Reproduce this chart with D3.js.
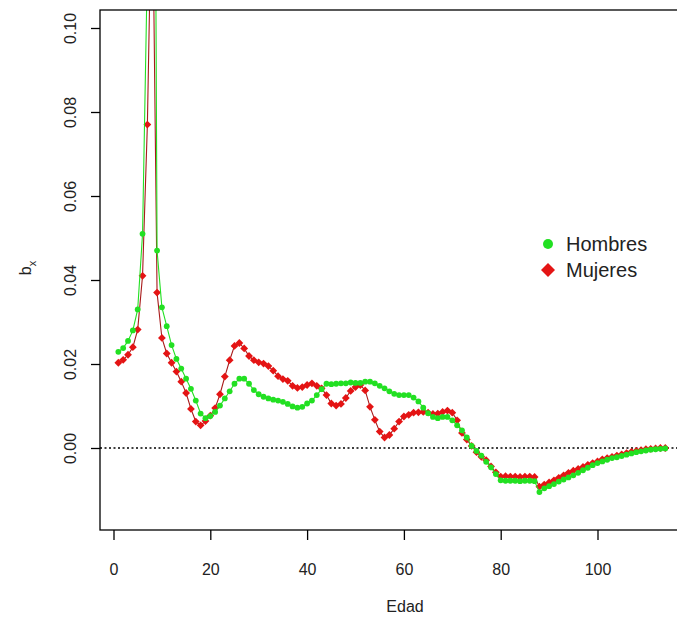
<!DOCTYPE html>
<html><head><meta charset="utf-8">
<script src="https://cdn.jsdelivr.net/npm/d3@7"></script>
<style>body{margin:0;background:#fff}svg{display:block}text{font-family:"Liberation Sans",Arial,sans-serif}</style>
</head><body><svg id="c" width="677" height="622"></svg>
<script>
const ages = d3.range(1, 115);
const hombres = [
0.0229,0.0238,0.0255,0.0280,0.0330,0.0510,0.1150,0.3000,0.0470,0.0335,
0.0290,0.0245,0.0212,0.0189,0.0165,0.0141,0.0113,0.0082,0.0071,0.0076,
0.0086,0.0101,0.0118,0.0135,0.0153,0.0165,0.0165,0.0153,0.0138,0.0128,
0.0122,0.0118,0.0115,0.0113,0.0110,0.0105,0.0099,0.0096,0.0098,0.0106,
0.0113,0.0126,0.0140,0.0153,0.0152,0.0153,0.0154,0.0154,0.0156,0.0155,
0.0155,0.0158,0.0158,0.0154,0.0148,0.0142,0.0135,0.0129,0.0126,0.0126,
0.0126,0.0120,0.0111,0.0096,0.0083,0.0074,0.0071,0.0074,0.0074,0.0066,
0.0054,0.0042,0.0025,0.0005,-0.0007,-0.0018,-0.0033,-0.0046,-0.0062,-0.0077,
-0.0078,-0.0078,-0.0078,-0.0079,-0.0078,-0.0078,-0.0079,-0.0105,-0.0096,-0.0091,
-0.0086,-0.0080,-0.0075,-0.0070,-0.0065,-0.0059,-0.0053,-0.0047,-0.0041,-0.0036,
-0.0032,-0.0028,-0.0024,-0.0022,-0.0019,-0.0016,-0.0013,-0.0010,-0.0008,-0.0006,
-0.0004,-0.0003,-0.0002,-0.0001];
const mujeres = [
0.0203,0.0210,0.0222,0.0240,0.0282,0.0410,0.0770,0.1400,0.0370,0.0262,
0.0225,0.0203,0.0182,0.0158,0.0131,0.0093,0.0063,0.0054,0.0064,0.0077,
0.0095,0.0128,0.0170,0.0209,0.0243,0.0250,0.0237,0.0219,0.0209,0.0204,
0.0201,0.0195,0.0184,0.0171,0.0164,0.0160,0.0148,0.0143,0.0145,0.0150,
0.0154,0.0148,0.0142,0.0126,0.0106,0.0101,0.0105,0.0119,0.0136,0.0145,
0.0150,0.0137,0.0098,0.0067,0.0039,0.0025,0.0031,0.0046,0.0063,0.0075,
0.0079,0.0084,0.0085,0.0086,0.0084,0.0081,0.0082,0.0086,0.0089,0.0084,
0.0066,0.0036,0.0020,0.0005,-0.0010,-0.0021,-0.0029,-0.0044,-0.0058,-0.0068,
-0.0067,-0.0068,-0.0068,-0.0069,-0.0068,-0.0068,-0.0069,-0.0092,-0.0087,-0.0082,
-0.0077,-0.0071,-0.0065,-0.0059,-0.0054,-0.0050,-0.0045,-0.0040,-0.0036,-0.0032,
-0.0027,-0.0024,-0.0021,-0.0018,-0.0015,-0.0012,-0.0009,-0.0007,-0.0005,-0.0003,
-0.0002,-0.0001,0.0000,0.0000];
const xTicks = [0, 20, 40, 60, 80, 100];
const yTicks = [0.00, 0.02, 0.04, 0.06, 0.08, 0.10];
const seriesNames = ["Hombres", "Mujeres"];

const svg = d3.select("#c");
const box = {l: 100, t: 10, r: 690, b: 530};
const x = d3.scaleLinear().domain([0, 100]).range([113.5, 597.5]);
const y = d3.scaleLinear().domain([0, 0.10]).range([448, 28]);
const GREEN = "#22e022", RED = "#e41414", REDLINE = "#a81a1a";

svg.append("defs").append("clipPath").attr("id", "clip")
  .append("rect").attr("x", box.l).attr("y", box.t).attr("width", box.r - box.l).attr("height", box.b - box.t);

const plot = svg.append("g").attr("clip-path", "url(#clip)");
plot.append("line").attr("x1", box.l).attr("x2", box.r).attr("y1", y(0)).attr("y2", y(0))
  .attr("stroke", "#000").attr("stroke-width", 1.3).attr("stroke-dasharray", "2,2.5");

const line = d3.line().x((d, i) => x(ages[i])).y(d => y(d));
plot.append("path").datum(mujeres).attr("d", line).attr("fill", "none").attr("stroke", REDLINE).attr("stroke-width", 1.1);
const diamond = s => `M0,${-s}L${s},0L0,${s}L${-s},0Z`;
plot.selectAll(".pm").data(mujeres).join("path").attr("class", "pm")
  .attr("transform", (d, i) => `translate(${x(ages[i])},${y(d)})`)
  .attr("d", diamond(3.9)).attr("fill", RED);
plot.append("path").datum(hombres).attr("d", line).attr("fill", "none").attr("stroke", GREEN).attr("stroke-width", 1.1);
plot.selectAll(".ph").data(hombres).join("circle").attr("class", "ph")
  .attr("cx", (d, i) => x(ages[i])).attr("cy", d => y(d)).attr("r", 2.9).attr("fill", GREEN);

svg.append("rect").attr("x", box.l).attr("y", box.t).attr("width", box.r - box.l).attr("height", box.b - box.t)
  .attr("fill", "none").attr("stroke", "#000").attr("stroke-width", 1.3);

const xAxis = svg.append("g").attr("transform", `translate(0,${box.b})`)
  .call(d3.axisBottom(x).tickValues(xTicks).tickSize(10).tickPadding(24).tickFormat(d3.format("d")));
xAxis.select(".domain").remove();
xAxis.selectAll("text").attr("font-size", 16).attr("fill", "#222").attr("font-family", "Liberation Sans, Arial, sans-serif");
xAxis.selectAll("line").attr("stroke", "#000").attr("stroke-width", 1.3);

const yAxis = svg.append("g").attr("transform", `translate(${box.l},0)`)
  .call(d3.axisLeft(y).tickValues(yTicks).tickSize(9).tickFormat(d3.format(".2f")));
yAxis.select(".domain").remove();
yAxis.selectAll("line").attr("stroke", "#000").attr("stroke-width", 1.3);
yAxis.selectAll("text").attr("font-size", 16).attr("fill", "#222").attr("font-family", "Liberation Sans, Arial, sans-serif")
  .attr("text-anchor", "middle").attr("x", null)
  .attr("transform", "translate(-30,0) rotate(-90)").attr("dy", "0.35em");

svg.append("text").attr("transform", "translate(0,612)").attr("x", 405).attr("text-anchor", "middle")
  .attr("font-size", 16).attr("fill", "#222").text("Edad");
const yl = svg.append("text").attr("transform", "translate(31,268) rotate(-90)").attr("text-anchor", "middle")
  .attr("font-size", 16).attr("fill", "#222");
yl.append("tspan").text("b");
yl.append("tspan").attr("font-size", 11).attr("dy", 5).text("x");

const lg = svg.append("g");
lg.append("circle").attr("cx", 548).attr("cy", 244).attr("r", 5).attr("fill", GREEN);
lg.append("path").attr("transform", "translate(548,270)").attr("d", diamond(7)).attr("fill", RED);
lg.append("text").attr("x", 566).attr("y", 251).attr("font-size", 20).attr("fill", "#222").text(seriesNames[0]);
lg.append("text").attr("x", 566).attr("y", 277).attr("font-size", 20).attr("fill", "#222").text(seriesNames[1]);
</script></body></html>
